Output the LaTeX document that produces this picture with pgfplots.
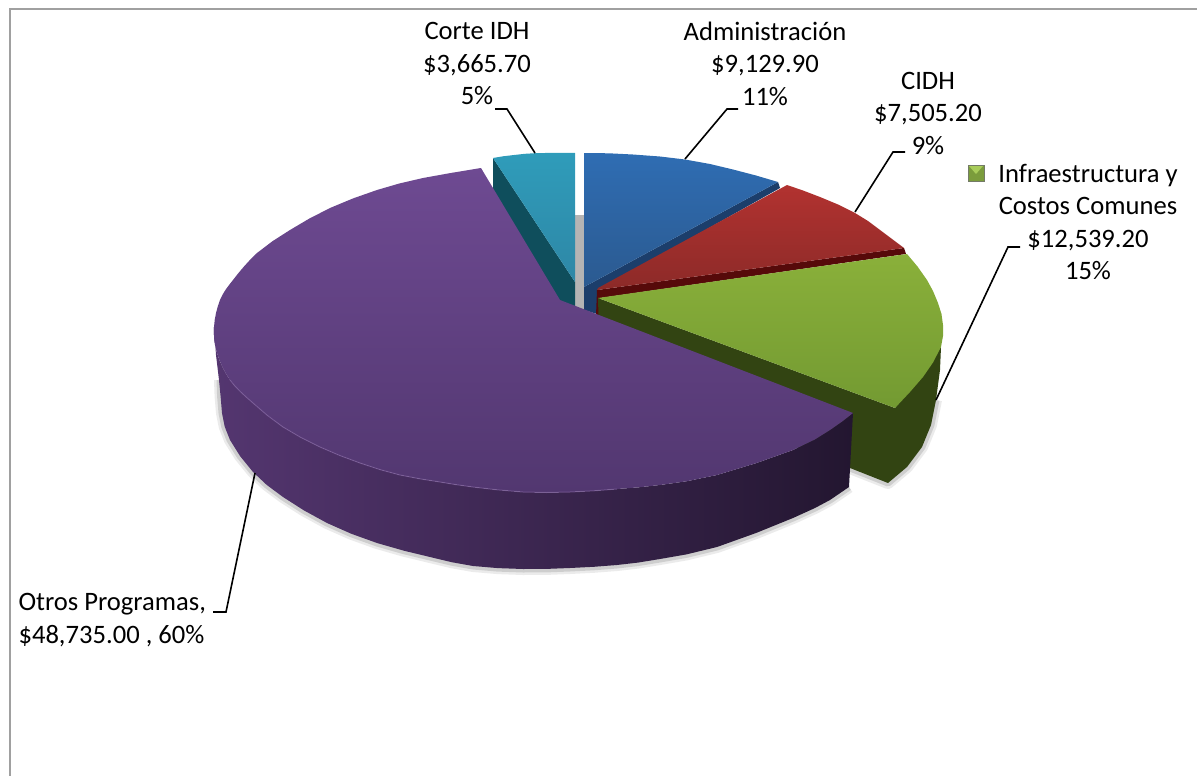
\documentclass[border=0pt]{standalone}
\usepackage{fontspec}
\setmainfont{Carlito}
\usepackage{pgfplots}
\pgfplotsset{compat=1.18}
\definecolor{framegray}{HTML}{A0A0A0}
\definecolor{backgray}{HTML}{B4B4B4}
\definecolor{purpleA}{HTML}{6E4A92}
\definecolor{purpleB}{HTML}{523770}
\definecolor{purpleL}{HTML}{543670}
\definecolor{purpleM}{HTML}{33224A}
\definecolor{purpleR}{HTML}{231630}
\definecolor{tealA}{HTML}{2F9CBA}
\definecolor{tealB}{HTML}{2E87A6}
\definecolor{tealS}{HTML}{0F4E5C}
\definecolor{blueA}{HTML}{2F6DB3}
\definecolor{blueB}{HTML}{2B5A90}
\definecolor{blueS}{HTML}{1C3E6B}
\definecolor{redA}{HTML}{B23230}
\definecolor{redB}{HTML}{8C2A28}
\definecolor{redS}{HTML}{560A0A}
\definecolor{greenA}{HTML}{8AB03A}
\definecolor{greenB}{HTML}{739A32}
\definecolor{greenS}{HTML}{324412}
\definecolor{keyA}{HTML}{7B9C3C}
\definecolor{keyB}{HTML}{A8CC5A}
\begin{document}
\begin{tikzpicture}
\useasboundingbox (0,0) rectangle (1197pt,776pt);
\begin{axis}[
  scale only axis, width=1197pt, height=776pt,
  xmin=0, xmax=1197, ymin=0, ymax=776, y dir=reverse,
  hide axis, clip=false,
  nodes={font=\fontsize{26.6}{32.5}\selectfont}]

% chart frame
\addplot[draw=framegray, line width=2pt] coordinates {(10,776) (10,9.5) (1197,9.5)};

% soft shadow under the pie
\addplot[draw=black, opacity=0.08, line width=12pt, line join=round] coordinates {(220,380) (220.6,396.5) (222,413) (224.7,426.6) (230,440) (240.1,456.1) (253,472) (266.7,484.9) (283,497) (303.8,510.3) (327,523) (351.4,533.8) (377,543) (403.9,550.7) (430,557) (451.7,562.2) (473,566) (497.8,568.1) (523,569) (546.7,568.9) (570,568) (593.8,566.8) (617,565) (637.9,562.6) (660,559) (686.4,554.4) (717,547) (756.3,532.9) (793,518) (815,508) (830,500) (849,487)};
\addplot[draw=black, opacity=0.12, line width=7pt, line join=round] coordinates {(220,380) (220.6,396.5) (222,413) (224.7,426.6) (230,440) (240.1,456.1) (253,472) (266.7,484.9) (283,497) (303.8,510.3) (327,523) (351.4,533.8) (377,543) (403.9,550.7) (430,557) (451.7,562.2) (473,566) (497.8,568.1) (523,569) (546.7,568.9) (570,568) (593.8,566.8) (617,565) (637.9,562.6) (660,559) (686.4,554.4) (717,547) (756.3,532.9) (793,518) (815,508) (830,500) (849,487)};
\addplot[draw=black, opacity=0.08, line width=12pt, line join=round] coordinates {(936,400) (931,425) (922,447) (907,467) (888,483) (850,468)};
\addplot[draw=black, opacity=0.12, line width=7pt, line join=round] coordinates {(936,400) (931,425) (922,447) (907,467) (888,483) (850,468)};

% gray wall behind the gap
\addplot[fill=backgray, draw=none] coordinates {(575,215) (584,215) (584,312) (575,312)} -- cycle;

% Corte IDH
\addplot[fill=tealS, draw=none] coordinates {(493,158) (575,282) (575,307) (540,300) (493,190)} -- cycle;
\addplot[top color=tealA, bottom color=tealB, draw=none] coordinates {(493,158) (503,156.3) (514,155) (525,153.8) (535,153.2) (555,152.8) (575,153) (575,282)} -- cycle;

% Administracion
\addplot[fill=blueS, draw=none] coordinates {(584,287) (778,182) (780,188) (597,291) (597,314) (584,310)} -- cycle;
\addplot[top color=blueA, bottom color=blueB, draw=none] coordinates {(584,153) (609,153.3) (633,154.5) (660,156.5) (685,159.5) (710,164) (733,169.5) (756,175.5) (778,182) (584,287)} -- cycle;

% CIDH
\addplot[fill=redS, draw=none] coordinates {(597,290) (904,248) (906,254) (600,298) (600,316) (596,316)} -- cycle;
\addplot[top color=redA, bottom color=redB, draw=none] coordinates {(598,288) (787,185) (803,190.5) (820,197) (838,204.5) (855,213) (868,221) (880,230) (892,239) (904,248) (597,290)} -- cycle;

% Infraestructura y Costos Comunes
\addplot[fill=greenS, draw=none] coordinates {(598,298) (895,408) (941,347) (940,370) (936,400) (931,425) (922,447) (907,467) (888,483) (850,468) (600,370)} -- cycle;
\addplot[top color=greenA, bottom color=greenB, draw=none] coordinates {(598,298) (907,254) (917.5,266.5) (927,280) (933,291) (938,303) (941.5,314) (943,325) (943,336) (941,347) (933,362.5) (923,377) (910,392) (895,408)} -- cycle;

% Otros Programas
\addplot[left color=purpleL, middle color=purpleM, right color=purpleR, draw=none] coordinates {(214,327) (213.9,333.6) (214.3,340) (215.3,346.5) (217,353) (219.3,359.8) (222.3,366.7) (225.8,373.5) (230,380) (234.9,386) (240.4,391.7) (246.5,397.3) (253,403) (267.1,415.2) (283,427) (300.9,437.5) (320,447) (339.8,455.5) (360,463) (380,469.6) (400,475) (420.4,478.9) (440,482) (455.9,484.6) (473,487) (497.1,489.8) (523,492) (546.7,492.5) (570,492) (593.8,490.8) (617,489) (637.9,487.4) (660,485) (686.4,481.3) (717,475) (756.3,463.1) (793,450) (814.8,439.5) (830,430) (842.4,421.3) (853,413) (849,487) (830,500) (815,508) (793,518) (756.3,532.9) (717,547) (686.4,554.4) (660,559) (637.9,562.6) (617,565) (593.8,566.8) (570,568) (546.7,568.9) (523,569) (497.8,568.1) (473,566) (451.7,562.2) (430,557) (403.9,550.7) (377,543) (351.4,533.8) (327,523) (303.8,510.3) (283,497) (266.7,484.9) (253,472) (240.1,456.1) (230,440) (224.7,426.6) (222,413) (220.6,396.5) (219,380) (216,355)} -- cycle;
\addplot[top color=purpleA, bottom color=purpleB, draw=none] coordinates {(481,168) (451.3,172.9) (423,178) (399.3,183.5) (377,190) (353.1,198.4) (330,208) (309.1,218.7) (290,230) (272.5,241.2) (257,253) (250.1,259.8) (243.8,266.7) (238,273.6) (233,280) (228.9,285.2) (225.4,290) (222.5,294.8) (220,300) (217.8,306.3) (216,313.1) (214.7,320) (214,327) (213.9,333.6) (214.3,340) (215.3,346.5) (217,353) (219.3,359.8) (222.3,366.7) (225.8,373.5) (230,380) (234.9,386) (240.4,391.7) (246.5,397.3) (253,403) (267.1,415.2) (283,427) (300.9,437.5) (320,447) (339.8,455.5) (360,463) (380,469.6) (400,475) (420.4,478.9) (440,482) (455.9,484.6) (473,487) (497.1,489.8) (523,492) (546.7,492.5) (570,492) (593.8,490.8) (617,489) (637.9,487.4) (660,485) (686.4,481.3) (717,475) (756.3,463.1) (793,450) (814.8,439.5) (830,430) (842.4,421.3) (853,413) (560,300)} -- cycle;
% bevel highlight along the rim
\addplot[draw=purpleA!85!white, opacity=0.6, line width=1pt, line join=round] coordinates {(230,380) (234.9,386) (240.4,391.7) (246.5,397.3) (253,403) (267.1,415.2) (283,427) (300.9,437.5) (320,447) (339.8,455.5) (360,463) (380,469.6) (400,475) (420.4,478.9) (440,482) (455.9,484.6) (473,487) (497.1,489.8) (523,492) (546.7,492.5) (570,492) (593.8,490.8) (617,489)};

% leader lines
\addplot[draw=black, line width=1.6pt] coordinates {(495,109) (507,109) (535,153)};
\addplot[draw=black, line width=1.6pt] coordinates {(738,109) (727,109) (685,159)};
\addplot[draw=black, line width=1.6pt] coordinates {(905,152) (893,152) (855,212)};
\addplot[draw=black, line width=1.6pt] coordinates {(1020,247) (1008,247) (936,400)};
\addplot[draw=black, line width=1.6pt] coordinates {(213,612) (226,612) (255,473)};

% legend key on the green label
\addplot[fill=keyA, draw=framegray!60!greenS, line width=0.9pt] coordinates {(968,165) (984,165) (984,181) (968,181)} -- cycle;
\addplot[fill=keyB, draw=none] coordinates {(969,166) (983,166) (976,174)} -- cycle;

% labels
\node[align=center] at (477,63.5) {Corte IDH\\\$3,665.70\\5\%};
\node[align=center] at (765,63.5) {Administración\\\$9,129.90\\11\%};
\node[align=center] at (928,113) {CIDH\\\$7,505.20\\9\%};
\node[align=center] at (1088,222) {Infraestructura y\\Costos Comunes\\\$12,539.20\\15\%};
\node[align=left, anchor=west] at (15,620) {Otros Programas,\\\$48,735.00 , 60\%};
\end{axis}
\end{tikzpicture}
\end{document}
